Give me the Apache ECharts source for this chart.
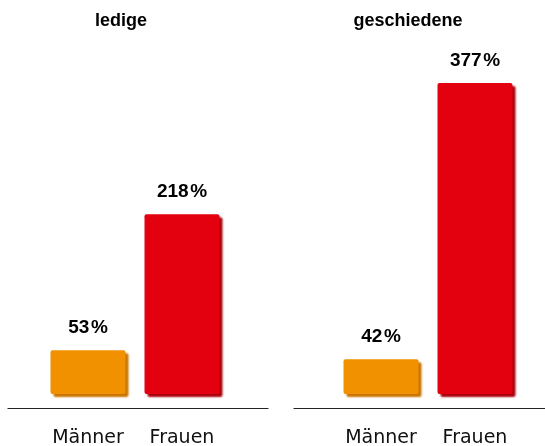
<!DOCTYPE html>
<html>
<head>
<meta charset="utf-8">
<script src="https://cdn.jsdelivr.net/npm/echarts@6/dist/echarts.min.js"></script>
<style>
  html, body { margin: 0; padding: 0; background: #fff; }
  #chart { width: 545px; height: 446px; }
</style>
</head>
<body>
<div id="chart"></div>
<script>
// data
const categories = ['Männer', 'Frauen']
const panelTitles = ['ledige', 'geschiedene']
const ledigeValues = [53, 218]
const geschiedeneValues = [42, 377]

const barColors = ['#F29100', '#E3000F']
const edgeColors = ['#C97300', '#A8000B']

const chart = echarts.init(document.getElementById('chart'))

const makeSeries = (values, idx) => ({
  type: 'bar',
  xAxisIndex: idx,
  yAxisIndex: idx,
  barWidth: 75,
  data: values.map((v, i) => ({
    value: v,
    itemStyle: {
      color: barColors[i],
      shadowColor: edgeColors[i],
      shadowOffsetX: 3,
      shadowOffsetY: 3,
      shadowBlur: 2
    }
  })),
  itemStyle: { borderRadius: 2 },
  label: {
    show: true,
    position: 'top',
    distance: 13,
    formatter: p => p.value + '\u200A%',
    color: '#000',
    fontFamily: 'Liberation Sans',
    fontWeight: 'bold',
    fontSize: 19
  },
  animation: false
})

const barXAxis = idx => ({
  type: 'category',
  gridIndex: idx,
  data: categories,
  offset: 14,
  axisLine: { show: false },
  axisTick: { show: false },
  axisLabel: {
    margin: 21,
    color: '#111',
    fontFamily: 'DejaVu Sans',
    fontSize: 19
  }
})

const lineXAxis = idx => ({
  type: 'category',
  gridIndex: idx,
  data: [],
  axisLine: { show: true, lineStyle: { color: '#222', width: 1.2 } },
  axisTick: { show: false },
  axisLabel: { show: false }
})

const yAxisOf = idx => ({
  type: 'value',
  gridIndex: idx,
  min: 0,
  max: 400,
  show: false
})

const titleStyle = {
  color: '#000',
  fontFamily: 'Liberation Sans',
  fontWeight: 'bold',
  fontSize: 18
}

const option = {
  backgroundColor: '#fff',
  title: [
    { text: panelTitles[0], left: 121, top: 12, textAlign: 'center', padding: 0, textStyle: titleStyle },
    { text: panelTitles[1], left: 408, top: 12, textAlign: 'center', padding: 0, textStyle: titleStyle }
  ],
  grid: [
    { left: 41, width: 188, top: 64, bottom: 52, outerBoundsMode: 'none' },
    { left: 334, width: 188, top: 64, bottom: 52, outerBoundsMode: 'none' },
    { left: 8, width: 260, top: 400, bottom: 38, outerBoundsMode: 'none' },
    { left: 294, right: 0, top: 400, bottom: 38, outerBoundsMode: 'none' }
  ],
  xAxis: [barXAxis(0), barXAxis(1), lineXAxis(2), lineXAxis(3)],
  yAxis: [yAxisOf(0), yAxisOf(1), yAxisOf(2), yAxisOf(3)],
  series: [
    makeSeries(ledigeValues, 0),
    makeSeries(geschiedeneValues, 1)
  ]
}

chart.setOption(option)
window.addEventListener('resize', () => chart.resize())
</script>
</body>
</html>
